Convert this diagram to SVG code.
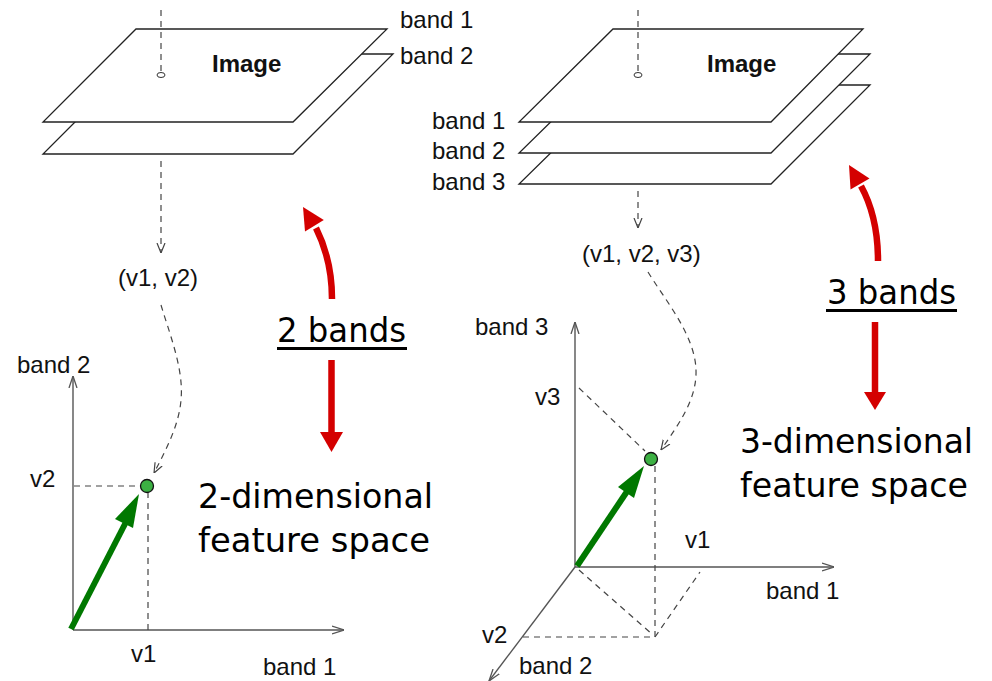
<svg xmlns="http://www.w3.org/2000/svg" width="992" height="681" viewBox="0 0 992 681">
<style>
.plane{fill:#fff;stroke:#222;stroke-width:1.3;stroke-linejoin:miter}
.lbl{font-family:"Liberation Sans",Arial,sans-serif;font-size:24px;fill:#111}
.bold{font-weight:bold}
.big{font-family:"DejaVu Sans","Liberation Sans",sans-serif;font-size:33px;fill:#000}
.dash{fill:none;stroke:#444;stroke-width:1.2;stroke-dasharray:6 5}
.axis{fill:none;stroke:#555;stroke-width:1.4}
.red{fill:none;stroke:#d40000;stroke-width:6.5}
.redh{fill:#d40000}
.grn{fill:none;stroke:#007800;stroke-width:6}
.grnh{fill:#007800}
.pt{fill:#3cb043;stroke:#111;stroke-width:1.3}
</style>
<defs>
<marker id="open" viewBox="0 0 10 10" refX="10" refY="5" markerWidth="10" markerHeight="10" markerUnits="userSpaceOnUse" orient="auto">
<path d="M0,1 L10,5 L0,9" fill="none" stroke="#444" stroke-width="1.2"/>
</marker>
<marker id="openAx" viewBox="0 0 12 10" refX="12" refY="5" markerWidth="12" markerHeight="10" markerUnits="userSpaceOnUse" orient="auto">
<path d="M0,1 L12,5 L0,9" fill="none" stroke="#555" stroke-width="1.3"/>
</marker>
</defs>

<g id="left-image">
<polygon class="plane" points="43,154 293,154 393,54 143,54"/>
<polygon class="plane" points="43,122 293,122 387,29 136,29"/>
<ellipse cx="161" cy="75" rx="4" ry="2.5" fill="none" stroke="#333" stroke-width="1"/>
<text class="lbl bold" x="212" y="72">Image</text>
<text class="lbl" x="400" y="28">band 1</text>
<text class="lbl" x="400" y="64">band 2</text>
</g>

<g id="right-image">
<polygon class="plane" points="519,184 771,184 870,85 620,85"/>
<polygon class="plane" points="519,153 771,153 870,54 620,54"/>
<polygon class="plane" points="519,122 771,122 863,29 613,29"/>
<ellipse cx="638" cy="75" rx="4" ry="2.5" fill="none" stroke="#333" stroke-width="1"/>
<text class="lbl bold" x="707" y="72">Image</text>
<text class="lbl" x="432" y="129">band 1</text>
<text class="lbl" x="432" y="159">band 2</text>
<text class="lbl" x="432" y="190">band 3</text>
</g>

<g id="left-vector">
<text class="lbl" x="118" y="286">(v1, v2)</text>
</g>
<g id="right-vector">
<text class="lbl" x="582" y="262">(v1, v2, v3)</text>
</g>

<g id="left-plot">
<line class="axis" x1="73" y1="630" x2="73" y2="376" marker-end="url(#openAx)"/>
<line class="axis" x1="73" y1="630" x2="344" y2="630" marker-end="url(#openAx)"/>
<text class="lbl" x="17" y="373">band 2</text>
<text class="lbl" x="263" y="675">band 1</text>
<text class="lbl" x="30" y="487">v2</text>
<text class="lbl" x="131" y="662">v1</text>
<line class="dash" x1="74" y1="486" x2="141" y2="486"/>
<line class="dash" x1="148" y1="492" x2="148" y2="630"/>
<line class="grn" x1="71" y1="629" x2="126" y2="522"/>
<polygon class="grnh" points="139,494 115,519 133,528"/>
<circle class="pt" cx="147" cy="486" r="6.5"/>
</g>

<g id="right-plot">
<line class="axis" x1="575" y1="567" x2="575" y2="322" marker-end="url(#openAx)"/>
<line class="axis" x1="575" y1="567" x2="834" y2="567" marker-end="url(#openAx)"/>
<line class="axis" x1="575" y1="567" x2="489" y2="681" marker-end="url(#openAx)"/>
<text class="lbl" x="475" y="335">band 3</text>
<text class="lbl" x="535" y="405">v3</text>
<text class="lbl" x="685" y="548">v1</text>
<text class="lbl" x="766" y="599">band 1</text>
<text class="lbl" x="482" y="643">v2</text>
<text class="lbl" x="519" y="674">band 2</text>
<line class="dash" x1="579" y1="388" x2="645" y2="451"/>
<line class="dash" x1="655" y1="466" x2="655" y2="637"/>
<line class="dash" x1="523" y1="637" x2="655" y2="637"/>
<line class="dash" x1="579" y1="570" x2="653" y2="635"/>
<line class="dash" x1="655" y1="637" x2="700" y2="572"/>
<line class="grn" x1="577" y1="566" x2="628" y2="490"/>
<polygon class="grnh" points="644,466 618,487 634,498"/>
<circle class="pt" cx="651" cy="459" r="6.5"/>
</g>

<g id="label-2bands">
<text class="big" x="277" y="342" textLength="129" lengthAdjust="spacingAndGlyphs">2 bands</text>
<rect x="277" y="347" width="130" height="3" fill="#000"/>
</g>
<g id="label-2d">
<text class="big" x="198" y="508" textLength="235" lengthAdjust="spacingAndGlyphs">2-dimensional</text>
<text class="big" x="198" y="552" textLength="232" lengthAdjust="spacingAndGlyphs">feature space</text>
</g>
<g id="label-3bands">
<text class="big" x="827" y="304" textLength="129" lengthAdjust="spacingAndGlyphs">3 bands</text>
<rect x="826" y="309" width="131" height="3" fill="#000"/>
</g>
<g id="label-3d">
<text class="big" x="740" y="453" textLength="233" lengthAdjust="spacingAndGlyphs">3-dimensional</text>
<text class="big" x="740" y="497" textLength="228" lengthAdjust="spacingAndGlyphs">feature space</text>
</g>

<g id="connectors">
<line class="dash" x1="161" y1="10" x2="161" y2="72"/>
<line class="dash" x1="161" y1="161" x2="161" y2="253" marker-end="url(#open)"/>
<path class="dash" d="M161,305 C170,335 184,370 181,400 C179,425 166,450 154,473" marker-end="url(#open)"/>
<line class="dash" x1="638" y1="10" x2="638" y2="72"/>
<line class="dash" x1="638" y1="191" x2="638" y2="228" marker-end="url(#open)"/>
<path class="dash" d="M648,272 C665,300 695,335 696,370 C697,400 678,425 661,450" marker-end="url(#open)"/>
<path class="red" d="M332,299 C332,270 326,248 316,228"/>
<polygon class="redh" points="303,207 323.8,220 305,231.4"/>
<line class="red" x1="331.5" y1="360" x2="331.5" y2="434"/>
<polygon class="redh" points="320,432 343,432 331.5,452"/>
<path class="red" d="M878,261 C878,232 872,206 861,186"/>
<polygon class="redh" points="849,165 869.5,178.5 850.5,189.5"/>
<line class="red" x1="875" y1="322" x2="875" y2="394"/>
<polygon class="redh" points="864,392 886,392 875,410"/>
</g>
</svg>
